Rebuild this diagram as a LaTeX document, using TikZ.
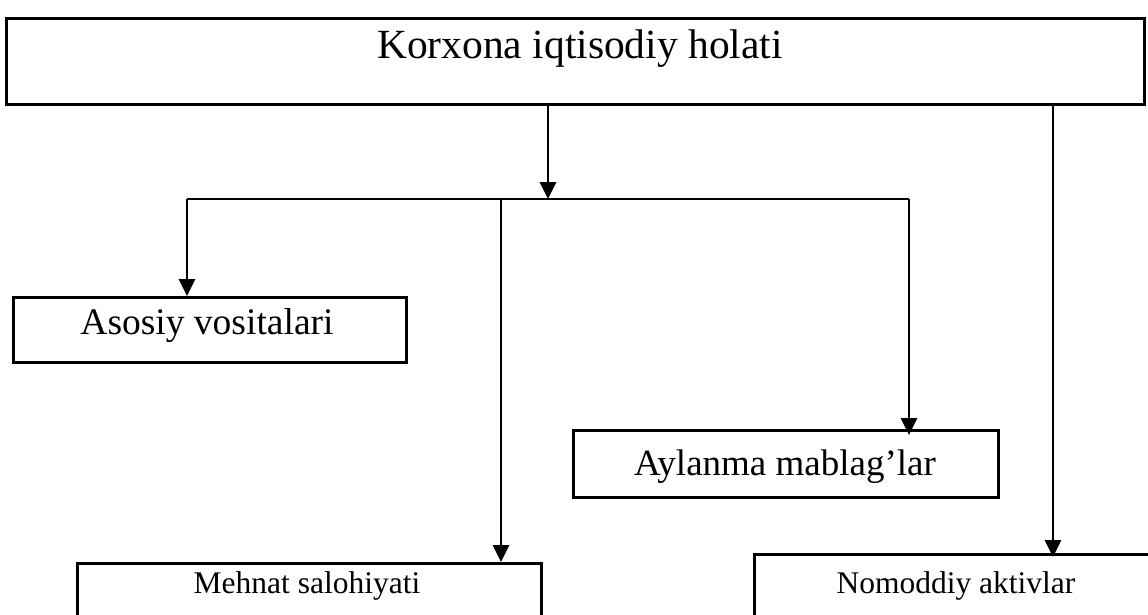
\documentclass[tikz,border=0pt]{standalone}
\usepackage{fontspec}
\setmainfont{Liberation Serif}
\usetikzlibrary{arrows.meta}
\begin{document}
\begin{tikzpicture}[x=1pt,y=-1pt,
  boxstyle/.style={draw, line width=2.6pt, inner sep=0pt, anchor=north west},
  lbl/.style={anchor=base, inner sep=0pt},
  conn/.style={line width=2.4pt},
  arr/.style={line width=2.8pt, -{Triangle[width=16pt,length=17pt]}}]
\useasboundingbox (0,0) rectangle (1148,615);
\clip (0,0) rectangle (1148,615);
% boxes
\node[boxstyle, line width=3.2pt, minimum width=1138pt, minimum height=86pt] (top) at (5,17) {};
\node[boxstyle, minimum width=393pt, minimum height=65pt] (asosiy) at (12,296) {};
\node[boxstyle, minimum width=425pt, minimum height=67pt] (aylanma) at (572,429) {};
\node[boxstyle, minimum width=464pt, minimum height=100pt] (mehnat) at (76,562) {};
\node[boxstyle, minimum width=420pt, minimum height=100pt] (nomoddiy) at (753,553) {};
% labels
\node[lbl, font=\fontsize{41.5}{50}\selectfont] (toptxt) at (580,59) {Korxona iqtisodiy holati};
\node[lbl, font=\fontsize{37.5}{45}\selectfont] (asosiytxt) at (207,334) {Asosiy vositalari};
\node[lbl, font=\fontsize{37}{44}\selectfont] (aylanmatxt) at (785,475) {Aylanma mablag’lar};
\node[lbl, font=\fontsize{31.5}{38}\selectfont] (mehnattxt) at (307,593) {Mehnat salohiyati};
\node[lbl, font=\fontsize{31.5}{38}\selectfont] (nomoddiytxt) at (956,593) {Nomoddiy aktivlar};
% junction coordinates
\coordinate (jm) at (548,199);
\coordinate (jl) at (187,199);
\coordinate (jr) at (909,199);
\coordinate (jmeh) at (501,199);
\coordinate (xr) at (1053,0);
% connectors
\draw[arr] (top.south -| jm) -- (jm);
\draw[conn] (jl) -- (jr);
\draw[arr] (jl) -- (jl |- asosiy.north);
\draw[arr] (jmeh) -- (jmeh |- mehnat.north);
\draw[arr] (jr) -- ([yshift=-6pt]jr |- aylanma.north);
\draw[arr] (top.south -| xr) -- ([yshift=-4pt]xr |- nomoddiy.north);
\end{tikzpicture}
\end{document}
